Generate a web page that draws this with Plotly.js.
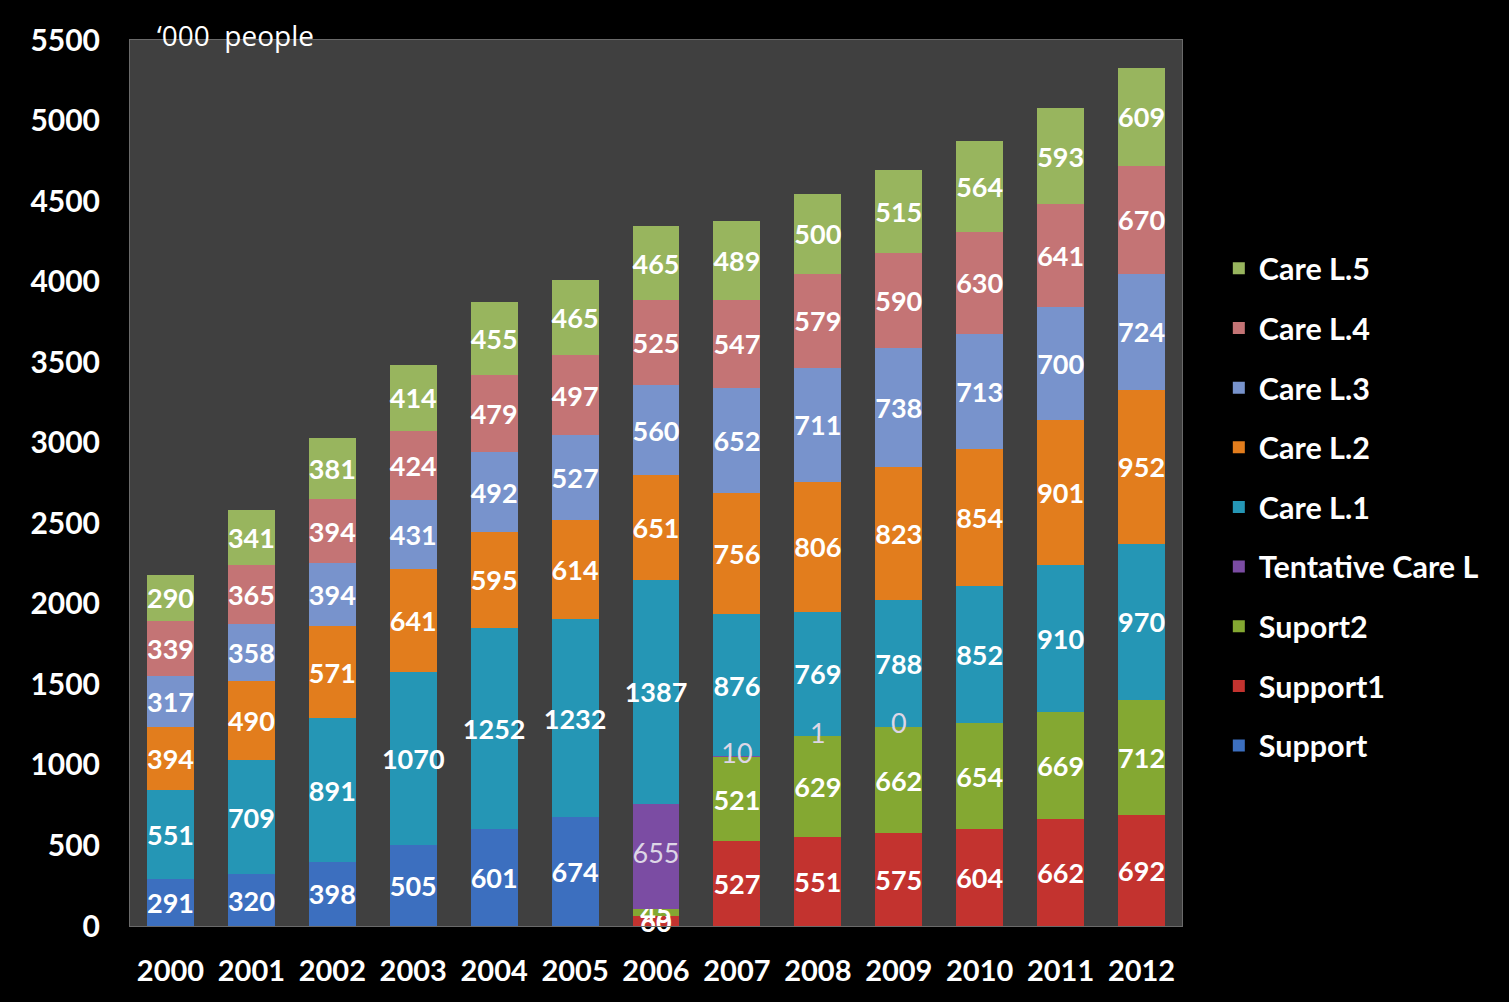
<!DOCTYPE html>
<html>
<head>
<meta charset="utf-8">
<script src="https://cdn.plot.ly/plotly-3.0.1.min.js"></script>
<style>
html,body{margin:0;padding:0;background:#000;}
#chart{width:1509px;height:1002px;}
</style>
</head>
<body>
<div id="chart"></div>
<script>
var years = ['2000','2001','2002','2003','2004','2005','2006','2007','2008','2009','2010','2011','2012'];
var support    = [291, 320, 398, 505, 601, 674, null, null, null, null, null, null, null];
var support1   = [null, null, null, null, null, null, 60, 527, 551, 575, 604, 662, 692];
var support2   = [null, null, null, null, null, null, 45, 521, 629, 662, 654, 669, 712];
var tentative  = [null, null, null, null, null, null, 655, 10, 1, 0, null, null, null];
var careL1     = [551, 709, 891, 1070, 1252, 1232, 1387, 876, 769, 788, 852, 910, 970];
var careL2     = [394, 490, 571, 641, 595, 614, 651, 756, 806, 823, 854, 901, 952];
var careL3     = [317, 358, 394, 431, 492, 527, 560, 652, 711, 738, 713, 700, 724];
var careL4     = [339, 365, 394, 424, 479, 497, 525, 547, 579, 590, 630, 641, 670];
var careL5     = [290, 341, 381, 414, 455, 465, 465, 489, 500, 515, 564, 593, 609];

var series = [
  {name:'Support', y:support, color:'#3c6fbf'},
  {name:'Support1', y:support1, color:'#c3332f'},
  {name:'Suport2', y:support2, color:'#84a832'},
  {name:'Tentative Care L', y:tentative, color:'#7b4ca3', light:true},
  {name:'Care L.1', y:careL1, color:'#2596b5'},
  {name:'Care L.2', y:careL2, color:'#e27d1d'},
  {name:'Care L.3', y:careL3, color:'#7893cc'},
  {name:'Care L.4', y:careL4, color:'#c47475'},
  {name:'Care L.5', y:careL5, color:'#98b55e'}
];

var traces = series.map(function(s, i){
  return {
    type:'bar', name:s.name, x:years, y:s.y,
    legendgroup:'g'+i, legendrank:100 - i,
    marker:{color:s.color, line:{width:0}},
    text:s.light ? null : s.y.map(function(v){return v===null?'':String(v);}),
    textposition:'inside', insidetextanchor:'middle', textangle:0,
    constraintext:'none', cliponaxis:false,
    textfont:{family:'Lato, sans-serif', size:27, color:'#ffffff', weight:700},
    hoverinfo:'x+y+name'
  };
});

// Tentative Care L labels drawn on top of all bars (as in the reference)
var tentBase = years.map(function(_, k){
  return (support[k]||0) + (support1[k]||0) + (support2[k]||0);
});
traces.push({
  type:'scatter', mode:'text', showlegend:false, hoverinfo:'skip',
  x:years,
  y:tentative.map(function(v, k){ return v===null ? null : tentBase[k] + v/2; }),
  text:tentative.map(function(v){ return v===null ? '' : String(v); }),
  textposition:'middle center', cliponaxis:false,
  textfont:{family:'Lato, sans-serif', size:27, color:'#ddd6e6', weight:400}
});

var layout = {
  width:1509, height:1002,
  paper_bgcolor:'#000000', plot_bgcolor:'#404040',
  margin:{l:130, r:327, t:40, b:76},
  barmode:'stack', bargap:0.42,
  showlegend:true,
  legend:{
    x:1.035, xanchor:'left', y:0.772, yanchor:'top',
    traceorder:'grouped', tracegroupgap:17,
    font:{family:'Lato, sans-serif', size:30.5, color:'#ffffff', weight:700},
    bgcolor:'rgba(0,0,0,0)', itemwidth:30
  },
  xaxis:{
    type:'category', range:[-0.5, 12.5], autorange:false,
    showgrid:false, zeroline:false,
    showline:true, linecolor:'#6a6a6a', linewidth:1, mirror:true,
    ticks:'', ticklabelstandoff:19,
    tickfont:{family:'Lato, sans-serif', size:29, color:'#ffffff', weight:700}
  },
  yaxis:{
    range:[0,5500], autorange:false, dtick:500, tick0:0, showgrid:false, zeroline:false,
    showline:true, linecolor:'#6a6a6a', linewidth:1, mirror:true,
    ticks:'', ticklabelstandoff:23,
    tickfont:{family:'Lato, sans-serif', size:30, color:'#ffffff', weight:700}
  },
  annotations:[{
    text:'\u2018000  people', xref:'paper', yref:'paper', x:0.0238, y:1.006,
    xanchor:'left', yanchor:'middle', showarrow:false,
    font:{family:'Open Sans, sans-serif', size:28, color:'#ffffff'}
  }]
};

Plotly.newPlot('chart', traces, layout, {displayModeBar:false, staticPlot:true});
</script>
</body>
</html>
